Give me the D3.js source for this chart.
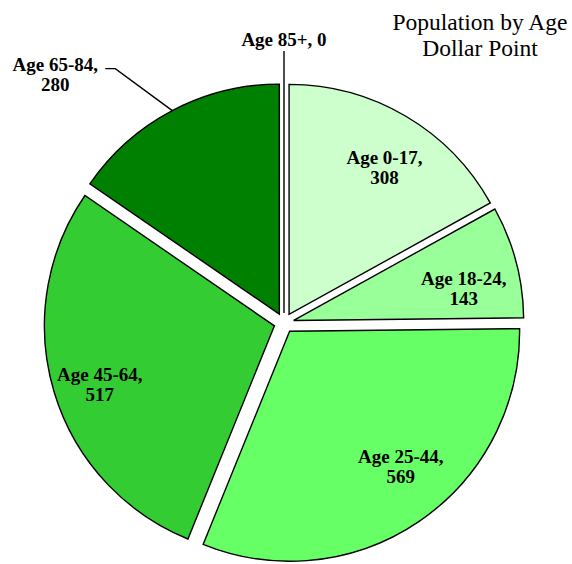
<!DOCTYPE html>
<html>
<head>
<meta charset="utf-8">
<script src="https://cdn.jsdelivr.net/npm/d3@7"></script>
<style>
  body { margin: 0; background: #fff; }
</style>
</head>
<body>
<div id="viz-container"></div>
<script>
// chart data
let categories = ["Age 0-17", "Age 18-24", "Age 25-44", "Age 45-64", "Age 65-84", "Age 85+"];
let values = [308, 143, 569, 517, 280, 0];
let titleLines = ["Population by Age", "Dollar Point"];

// the svg
let viz = d3.select("#viz-container")
                .append("svg")
                    .attr("id", "viz")
                    .attr("width", 572)
                    .attr("height", 564)
                    .style("background-color", "white")
;

let cx = 284, cy = 323;
let radius = 230;
let explode = 10;
let labelRadius = 176;

// small hand nudges, the original program shifted some labels off the middle line
let labelNudge = {
    "Age 0-17": [6, 5],
    "Age 18-24": [0, 14],
    "Age 25-44": [12, -10],
    "Age 45-64": [-6, 9]
};

let color = d3.scaleOrdinal()
                .domain(categories)
                .range(["#CCFFCC", "#99FF99", "#66FF66", "#33CC33", "#008000", "#FFFFFF"])
;

let pie = d3.pie().sort(null).value(function(d, i){ return values[i]; });
let arcs = pie(categories);

let arc = d3.arc().innerRadius(0).outerRadius(radius);
let labelArc = d3.arc().innerRadius(labelRadius).outerRadius(labelRadius);

function midAngle(d){
    return (d.startAngle + d.endAngle) / 2;
}
// each slice is pulled out along its middle angle
function apex(d){
    let a = midAngle(d);
    return [cx + explode * Math.sin(a), cy - explode * Math.cos(a)];
}
function translateSlice(d, i){
    let p = apex(d);
    return "translate(" + p[0] + ", " + p[1] + ")";
}

let slices = viz.selectAll(".slice").data(arcs).enter().append("g")
                .attr("class", "slice")
                .attr("transform", translateSlice)
;

slices.append("path")
        .attr("d", arc)
        .attr("fill", function(d){ return color(d.data); })
        .attr("stroke", "black")
        .attr("stroke-width", 1.4)
        .attr("stroke-linejoin", "miter")
;

let labelFont = "'Liberation Serif', 'Times New Roman', serif";

// labels inside the slices
let inside = arcs.filter(function(d){ return d.data != "Age 65-84" && d.data != "Age 85+"; });
let insideLabels = viz.selectAll(".inlabel").data(inside).enter().append("text")
                .attr("class", "inlabel")
                .attr("text-anchor", "middle")
                .style("font-family", labelFont)
                .style("font-weight", "bold")
                .style("font-size", "19px")
                .attr("transform", function(d){
                    let p = apex(d);
                    let c = labelArc.centroid(d);
                    let n = labelNudge[d.data];
                    return "translate(" + (p[0] + c[0] + n[0]) + ", " + (p[1] + c[1] + n[1]) + ")";
                })
;
insideLabels.append("tspan")
        .attr("x", 0)
        .attr("y", -4)
        .text(function(d){ return d.data + ","; });
insideLabels.append("tspan")
        .attr("x", 0)
        .attr("y", 16)
        .text(function(d){ return d.value; });

// Age 85+ label sits straight above its (empty) slice
let d85 = arcs[5];
let p85 = apex(d85);
let top85 = [p85[0] + radius * Math.sin(midAngle(d85)), p85[1] - radius * Math.cos(midAngle(d85))];
viz.append("line")
        .attr("x1", top85[0]).attr("y1", top85[1])
        .attr("x2", top85[0]).attr("y2", top85[1] - 32)
        .attr("stroke", "black")
        .attr("stroke-width", 1.4)
;
viz.append("text")
        .attr("x", top85[0])
        .attr("y", top85[1] - 37)
        .attr("text-anchor", "middle")
        .style("font-family", labelFont)
        .style("font-weight", "bold")
        .style("font-size", "19px")
        .text(d85.data + ", " + d85.value)
;

// Age 65-84 label pulled out to the upper left with a leader line
let d65 = arcs[4];
let p65 = apex(d65);
let edge65 = [p65[0] + radius * Math.sin(midAngle(d65)), p65[1] - radius * Math.cos(midAngle(d65))];
let elbow65 = [edge65[0] - 57, edge65[1] - 42];
let tail65 = [elbow65[0] - 10, elbow65[1]];
viz.append("polyline")
        .attr("points", [edge65, elbow65, tail65].map(function(p){ return p.join(","); }).join(" "))
        .attr("fill", "none")
        .attr("stroke", "black")
        .attr("stroke-width", 1.4)
;
let label65 = viz.append("text")
        .attr("text-anchor", "middle")
        .style("font-family", labelFont)
        .style("font-weight", "bold")
        .style("font-size", "19px")
;
label65.append("tspan")
        .attr("x", tail65[0] - 50)
        .attr("y", tail65[1] + 2)
        .text(d65.data + ",");
label65.append("tspan")
        .attr("x", tail65[0] - 50)
        .attr("y", tail65[1] + 22)
        .text(d65.value);

// title
viz.selectAll(".title").data(titleLines).enter().append("text")
        .attr("class", "title")
        .attr("x", 480)
        .attr("y", function(d, i){ return 29.5 + i * 26; })
        .attr("text-anchor", "middle")
        .style("font-family", labelFont)
        .style("font-size", "23.5px")
        .text(function(d){ return d; })
;
</script>
</body>
</html>
